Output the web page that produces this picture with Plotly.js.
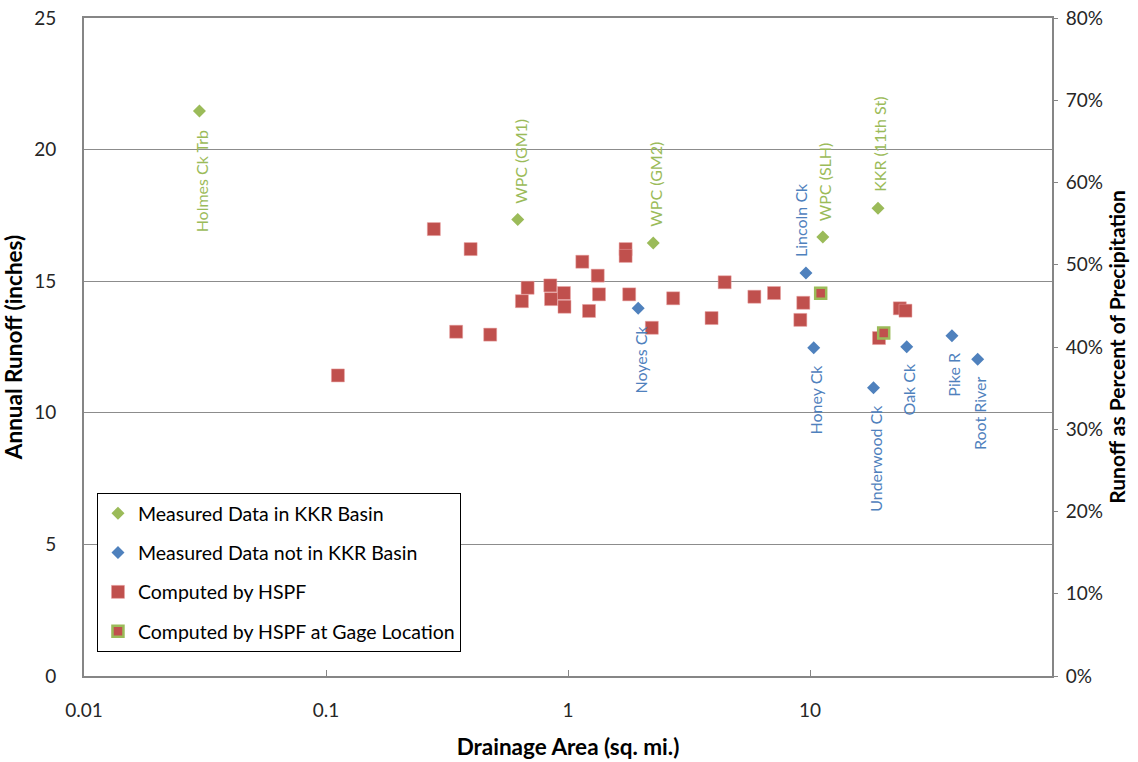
<!DOCTYPE html>
<html>
<head>
<meta charset="utf-8">
<script src="https://cdn.plot.ly/plotly-3.0.1.min.js"></script>
<style>html,body{margin:0;padding:0;background:#fff;}#chart{width:1138px;height:762px;}</style>
</head>
<body>
<div id="chart"></div>
<script>
// Measured data in KKR basin
const kkrNames = ['Holmes Ck Trb', 'WPC (GM1)', 'WPC (GM2)', 'WPC (SLH)', 'KKR (11th St)'];
const kkrArea = [0.030, 0.62, 2.25, 11.3, 19.1];
const kkrRunoff = [21.47, 17.34, 16.45, 16.68, 17.77];

// Measured data not in KKR basin
const otherNames = ['Noyes Ck', 'Lincoln Ck', 'Honey Ck', 'Underwood Ck', 'Oak Ck', 'Pike R', 'Root River'];
const otherArea = [1.95, 9.62, 10.36, 18.3, 25.1, 38.6, 49.3];
const otherRunoff = [13.97, 15.31, 12.47, 10.95, 12.51, 12.93, 12.03];

// Computed by HSPF
const hspfArea = [0.112, 0.279, 0.396, 0.345, 0.477, 0.645, 0.681, 0.845, 0.851, 0.962, 0.967,
  1.146, 1.221, 1.327, 1.343, 1.73, 1.73, 1.79, 2.22, 2.72, 3.92, 4.44, 5.89, 7.10,
  9.12, 9.38, 19.28, 23.5, 24.8];
const hspfRunoff = [11.42, 16.98, 16.22, 13.08, 12.97, 14.24, 14.75, 14.84, 14.32, 14.55, 14.03,
  15.74, 13.87, 15.21, 14.50, 16.22, 15.96, 14.50, 13.23, 14.35, 13.60, 14.96, 14.41, 14.55,
  13.53, 14.18, 12.84, 13.97, 13.88];

// Computed by HSPF at gage location
const gageArea = [11.07, 20.16];
const gageRunoff = [14.54, 13.03];

// Right axis: runoff as fraction of precipitation (25 in = 80%)
const pctRange = [0, 0.8];

// label placement (style)
const kkrSide = ['below', 'above', 'above', 'above', 'above'];
const otherSide = ['below', 'above', 'below', 'below', 'below', 'below', 'below'];
const otherShift = [2, -6, 2, 2, 2, 2, 2];

const GREEN = '#9BBB59', BLUE = '#4F81BD', RED = '#C0504D';
const FONT = 'Lato, "Liberation Sans", sans-serif';

const traces = [
  {x: kkrArea, y: kkrRunoff, type: 'scatter', mode: 'markers', name: 'Measured Data in KKR Basin',
   legendgroup: 'a', marker: {symbol: 'diamond', color: GREEN, size: 10}},
  {x: otherArea, y: otherRunoff, type: 'scatter', mode: 'markers', name: 'Measured Data not in KKR Basin',
   legendgroup: 'b', marker: {symbol: 'diamond', color: BLUE, size: 10}},
  {x: hspfArea, y: hspfRunoff, type: 'scatter', mode: 'markers', name: 'Computed by HSPF',
   legendgroup: 'c', marker: {symbol: 'square', color: RED, size: 13, line: {width: 0.5, color: '#e8a0a0'}}},
  {x: gageArea, y: gageRunoff, type: 'scatter', mode: 'markers', name: 'Computed by HSPF at Gage Location',
   legendgroup: 'd', marker: {symbol: 'square', color: RED, size: 11, line: {width: 2.5, color: GREEN}}},
  {x: [], y: [], type: 'scatter', mode: 'markers', yaxis: 'y2', showlegend: false, hoverinfo: 'skip'}
];

const annotations = [];
function addLabels(names, xs, ys, sides, shifts, color, isKkr) {
  names.forEach((n, i) => {
    const above = sides[i] === 'above';
    annotations.push({
      x: Math.log10(xs[i]), y: ys[i], xref: 'x', yref: 'y', text: n, showarrow: false,
      textangle: -90, xanchor: 'center', yanchor: above ? 'bottom' : 'top',
      yshift: above ? 14 : (isKkr && i === 0 ? -17 : -15),
      xshift: shifts ? shifts[i] : 2,
      font: {family: FONT, size: 16, color: color}
    });
  });
}
addLabels(kkrNames, kkrArea, kkrRunoff, kkrSide, null, GREEN, true);
addLabels(otherNames, otherArea, otherRunoff, otherSide, otherShift, BLUE, false);

const titleFont = {family: FONT, size: 22.5, weight: 'bold', color: '#000'};
const tickFont = {family: FONT, size: 19, color: '#262626'};

const layout = {
  width: 1138, height: 762,
  margin: {l: 84, r: 86, t: 18, b: 86, pad: 0},
  paper_bgcolor: '#fff', plot_bgcolor: '#fff',
  font: {family: FONT, color: '#262626'},
  showlegend: true,
  xaxis: {
    type: 'log', range: [-2, 2],
    tickvals: [0.01, 0.1, 1, 10, 100], ticktext: ['0.01', '0.1', '1', '10', ''],
    ticks: 'inside', ticklen: 6, tickcolor: '#868686', tickwidth: 1,
    showline: true, linecolor: '#868686', linewidth: 2, mirror: true,
    showgrid: false, zeroline: false, ticklabelstandoff: 16,
    tickfont: tickFont,
    title: {text: 'Drainage Area (sq. mi.)', font: titleFont, standoff: 19}
  },
  yaxis: {
    range: [0, 25], dtick: 5, tick0: 0,
    showgrid: true, gridcolor: '#8c8c8c', gridwidth: 1,
    showline: true, linecolor: '#868686', linewidth: 2, mirror: true,
    zeroline: false, ticks: '', ticklabelstandoff: 22,
    tickfont: tickFont,
    title: {text: 'Annual Runoff (inches)', font: titleFont, standoff: 8}
  },
  yaxis2: {
    overlaying: 'y', side: 'right', range: pctRange, dtick: 0.1, tick0: 0,
    tickformat: '.0%', ticks: 'outside', ticklen: 5, tickcolor: '#868686',
    showgrid: false, zeroline: false, showline: false, ticklabelstandoff: 4,
    tickfont: tickFont,
    title: {text: 'Runoff as Percent of Precipitation', font: {family: FONT, size: 21, weight: 'bold', color: '#000'}, standoff: 8}
  },
  legend: {
    x: 0.0134, y: 0.0365, xanchor: 'left', yanchor: 'bottom',
    bgcolor: '#fff', bordercolor: '#000', borderwidth: 1,
    font: {family: FONT, size: 19.5, color: '#000'},
    traceorder: 'grouped', tracegroupgap: 11, itemwidth: 30
  },
  annotations: annotations
};

Plotly.newPlot('chart', traces, layout, {displayModeBar: false, staticPlot: true});
</script>
</body>
</html>
